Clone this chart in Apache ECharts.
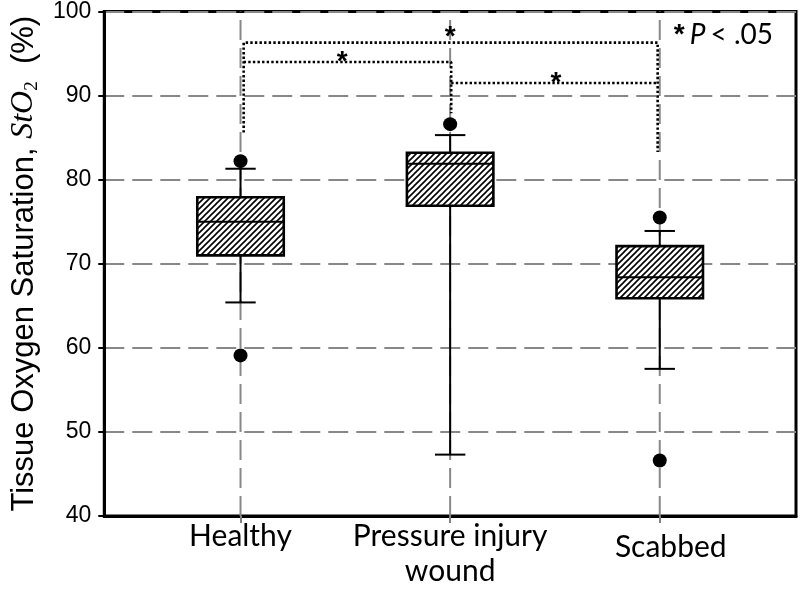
<!DOCTYPE html>
<html>
<head>
<meta charset="utf-8">
<script src="https://cdn.jsdelivr.net/npm/echarts@6/dist/echarts.min.js"></script>
<style>
html,body{margin:0;padding:0;background:#fff;}
#chart{width:800px;height:589px;}
</style>
</head>
<body>
<div id="chart"></div>
<script>
// ---- data ----
const categories = ['Healthy', 'Pressure injury\nwound', 'Scabbed'];
const categoryPos = [1, 2, 3];
const whiskerLow = [65.4, 47.3, 57.5];
const q1 = [71.0, 76.9, 65.9];
const median = [75.0, 81.9, 68.4];
const q3 = [77.9, 83.2, 72.1];
const whiskerHigh = [81.3, 85.3, 73.9];
const outlierX = [1, 1, 2, 3, 3];
const outlierY = [82.2, 59.1, 86.6, 75.5, 46.6];
const yTicks = [40, 50, 60, 70, 80, 90, 100];
// significance brackets (data coordinates)
const bracketHS = [[1.015, 85.6], [1.015, 96.3], [2.99, 96.3], [2.99, 83.3]];
const bracketHP = [[1.015, 94.0], [2.005, 94.0], [2.005, 87.9]];
const bracketPS = [[2.005, 91.5], [2.99, 91.5]];
const starPoints = [[2.0, 97.4], [1.485, 94.4], [2.505, 91.9]];

// hatch pattern
function makeHatch() {
  const s = 6;
  const c = document.createElement('canvas');
  c.width = s; c.height = s;
  const g = c.getContext('2d');
  g.fillStyle = '#fff';
  g.fillRect(0, 0, s, s);
  g.strokeStyle = '#000';
  g.lineWidth = 1.6;
  g.beginPath();
  g.moveTo(0, s); g.lineTo(s, 0);
  g.moveTo(-1, 1); g.lineTo(1, -1);
  g.moveTo(s - 1, s + 1); g.lineTo(s + 1, s - 1);
  g.stroke();
  return c;
}
const hatch = { image: makeHatch(), repeat: 'repeat' };

const boxData = categoryPos.map((x, i) => [x, whiskerLow[i], q1[i], median[i], q3[i], whiskerHigh[i]]);
const outlierData = outlierX.map((x, i) => [x, outlierY[i]]);
const yMin = yTicks[0], yMax = yTicks[yTicks.length - 1];

const BOX_W = 0.4125;
const CAP_W = 0.145;

function renderBox(params, api) {
  const x = api.value(0);
  const lo = api.coord([x, api.value(1)]);
  const b1 = api.coord([x, api.value(2)]);
  const md = api.coord([x, api.value(3)]);
  const b3 = api.coord([x, api.value(4)]);
  const hi = api.coord([x, api.value(5)]);
  const hw = api.size([BOX_W, 0])[0] / 2;
  const cw = api.size([CAP_W, 0])[0] / 2;
  const cx = lo[0];
  const ls = { stroke: '#000', lineWidth: 2, fill: null };
  return {
    type: 'group',
    children: [
      { type: 'line', shape: { x1: cx, y1: lo[1], x2: cx, y2: b1[1] }, style: ls },
      { type: 'line', shape: { x1: cx, y1: hi[1], x2: cx, y2: b3[1] }, style: ls },
      { type: 'line', shape: { x1: cx - cw, y1: lo[1], x2: cx + cw, y2: lo[1] }, style: ls },
      { type: 'line', shape: { x1: cx - cw, y1: hi[1], x2: cx + cw, y2: hi[1] }, style: ls },
      { type: 'rect', shape: { x: cx - hw, y: b3[1], width: hw * 2, height: b1[1] - b3[1] },
        style: { fill: hatch, stroke: '#000', lineWidth: 2.6 } },
      { type: 'line', shape: { x1: cx - hw, y1: md[1], x2: cx + hw, y2: md[1] }, style: ls }
    ]
  };
}

const dotted = { color: '#000', width: 2.6, type: [2.4, 2.2] };
const gridDash = { color: '#888', width: 2, type: [20, 8] };

const vLines = categoryPos.map(v => ({
  type: 'line', z: 1, silent: true, symbol: 'none',
  data: [[v, yMin], [v, yMax]], lineStyle: gridDash
}));

const chart = echarts.init(document.getElementById('chart'), null, { renderer: 'canvas' });
chart.setOption({
  animation: false,
  backgroundColor: '#fff',
  title: {
    right: 22, top: 16,
    text: '{b|*} {i|P} {r|< .05}',
    textStyle: {
      rich: {
        b: { fontFamily: 'Liberation Sans', fontWeight: 'bold', fontSize: 28, color: '#000' },
        i: { fontFamily: 'Lato', fontStyle: 'italic', fontWeight: 'normal', fontSize: 28, color: '#000' },
        r: { fontFamily: 'Lato', fontWeight: 'normal', fontSize: 28, color: '#000' }
      }
    }
  },
  grid: { left: 93, right: 4, top: 9, bottom: 73, show: true, borderColor: '#000', borderWidth: 3 },
  xAxis: {
    type: 'value', min: 0.35, max: 3.65,
    axisLine: { show: true, onZero: false, lineStyle: { color: '#000', width: 3 } },
    axisTick: { show: true, customValues: categoryPos, length: 7, lineStyle: { color: '#808080', width: 2 } },
    splitLine: { show: false },
    axisLabel: {
      customValues: categoryPos,
      margin: 3,
      fontFamily: 'Lato', fontSize: 30, color: '#000', lineHeight: 35,
      formatter: function (v) {
        const i = Math.round(v) - 1;
        if (i === 2) return '{s|' + categories[i] + '}';
        return categories[i];
      },
      rich: { s: { fontFamily: 'Lato', fontSize: 30, color: '#000', lineHeight: 35, padding: [22, 0, 0, 22] } }
    }
  },
  yAxis: {
    type: 'value', min: yMin, max: yMax, interval: 10,
    name: '{a|Tissue Oxygen Saturation, }{i|StO}{s|2}{a|  (%)}',
    nameLocation: 'middle', nameGap: 61,
    nameTextStyle: {
      rich: {
        a: { fontFamily: 'Liberation Sans', fontSize: 31, color: '#000', lineHeight: 36 },
        i: { fontFamily: 'Liberation Serif', fontStyle: 'italic', fontSize: 32, color: '#000', lineHeight: 36 },
        s: { fontFamily: 'Liberation Serif', fontSize: 19, color: '#000', lineHeight: 22, verticalAlign: 'bottom' }
      }
    },
    axisLine: { show: true, lineStyle: { color: '#000', width: 3 } },
    axisTick: { show: true, length: 6, lineStyle: { color: '#000', width: 2 } },
    axisLabel: { fontFamily: 'Liberation Sans', fontSize: 23, color: '#000', margin: 13 },
    splitLine: { show: true, lineStyle: gridDash }
  },
  series: vLines.concat([
    {
      type: 'custom', z: 3, renderItem: renderBox, data: boxData,
      encode: { x: 0, y: [1, 2, 3, 4, 5] }
    },
    {
      type: 'scatter', z: 4, data: outlierData, symbolSize: 14,
      itemStyle: { color: '#000', opacity: 1 }
    },
    { type: 'line', z: 5, data: bracketHS, symbol: 'none', lineStyle: dotted },
    { type: 'line', z: 5, data: bracketHP, symbol: 'none', lineStyle: dotted },
    { type: 'line', z: 5, data: bracketPS, symbol: 'none', lineStyle: dotted },
    {
      type: 'scatter', z: 6, data: starPoints, symbolSize: 0,
      itemStyle: { color: '#000', opacity: 1 },
      label: { show: true, position: 'inside', formatter: '*', offset: [0, 4],
        textBorderWidth: 0, textBorderColor: 'transparent',
        fontFamily: 'Liberation Sans', fontWeight: 'bold', fontSize: 28, color: '#000' }
    }
  ])
});
</script>
</body>
</html>
